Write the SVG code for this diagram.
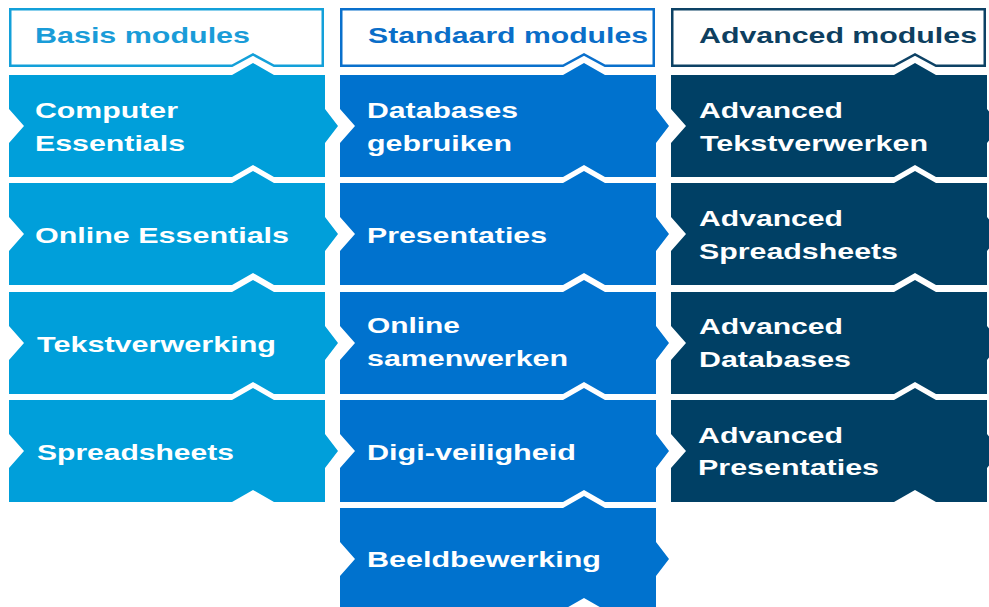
<svg xmlns="http://www.w3.org/2000/svg" xmlns:xlink="http://www.w3.org/1999/xlink" width="989" height="607" viewBox="0 0 989 607">
<style>
.t{font-family:"Liberation Sans",Arial,sans-serif;font-weight:bold;font-size:22px;fill:#ffffff}
.h{font-family:"Liberation Sans",Arial,sans-serif;font-weight:bold;font-size:22px}
.c1{fill:#009fda}.c2{fill:#0072ce}.c3{fill:#004065}
.hb{fill:#ffffff;stroke-width:2.5}
</style>
<defs>
<path id="blk" d="M0,0 H223 L244,-12 L265,0 H316 V34 L329,51 L316,68 V102 H265 L244,90 L223,102 H0 V68 L15,51 L0,34 Z"/>
<path id="hdr" d="M1.25,9.25 H313.75 V65.75 H265 L244,54.5 L223,65.75 H1.25 Z"/>
</defs>
<rect width="989" height="607" fill="#ffffff"/>

<g id="col1">
<g id="hdr-basis">
<use xlink:href="#hdr" x="9" class="hb" stroke="#13a0d9"/>
<text class="h" x="35" y="43" fill="#1a9cd8" textLength="215" lengthAdjust="spacingAndGlyphs">Basis modules</text>
</g>
<g id="computer-essentials">
<use xlink:href="#blk" x="9" y="75" class="c1"/>
<text class="t" x="35" y="118" textLength="143" lengthAdjust="spacingAndGlyphs">Computer</text>
<text class="t" x="35" y="151" textLength="150" lengthAdjust="spacingAndGlyphs">Essentials</text>
</g>
<g id="online-essentials">
<use xlink:href="#blk" x="9" y="183" class="c1"/>
<text class="t" x="35" y="243" textLength="254" lengthAdjust="spacingAndGlyphs">Online Essentials</text>
</g>
<g id="tekstverwerking">
<use xlink:href="#blk" x="9" y="292" class="c1"/>
<text class="t" x="37" y="352" textLength="239" lengthAdjust="spacingAndGlyphs">Tekstverwerking</text>
</g>
<g id="spreadsheets">
<use xlink:href="#blk" x="9" y="400" class="c1"/>
<text class="t" x="37" y="460" textLength="197" lengthAdjust="spacingAndGlyphs">Spreadsheets</text>
</g>
</g>

<g id="col2">
<g id="hdr-standaard">
<use xlink:href="#hdr" x="340" class="hb" stroke="#0a70cc"/>
<text class="h" x="368" y="43" fill="#0a6ec8" textLength="280" lengthAdjust="spacingAndGlyphs">Standaard modules</text>
</g>
<g id="databases-gebruiken">
<use xlink:href="#blk" x="340" y="75" class="c2"/>
<text class="t" x="367" y="118" textLength="151" lengthAdjust="spacingAndGlyphs">Databases</text>
<text class="t" x="367" y="151" textLength="145" lengthAdjust="spacingAndGlyphs">gebruiken</text>
</g>
<g id="presentaties">
<use xlink:href="#blk" x="340" y="183" class="c2"/>
<text class="t" x="367" y="243" textLength="180" lengthAdjust="spacingAndGlyphs">Presentaties</text>
</g>
<g id="online-samenwerken">
<use xlink:href="#blk" x="340" y="292" class="c2"/>
<text class="t" x="367" y="333" textLength="93" lengthAdjust="spacingAndGlyphs">Online</text>
<text class="t" x="367" y="366" textLength="201" lengthAdjust="spacingAndGlyphs">samenwerken</text>
</g>
<g id="digi-veiligheid">
<use xlink:href="#blk" x="340" y="400" class="c2"/>
<text class="t" x="367" y="460" textLength="209" lengthAdjust="spacingAndGlyphs">Digi-veiligheid</text>
</g>
<g id="beeldbewerking">
<use xlink:href="#blk" x="340" y="508" class="c2"/>
<text class="t" x="367" y="567" textLength="234" lengthAdjust="spacingAndGlyphs">Beeldbewerking</text>
</g>
</g>

<g id="col3">
<g id="hdr-advanced">
<use xlink:href="#hdr" x="671" class="hb" stroke="#0d4265"/>
<text class="h" x="699" y="43" fill="#0e3f60" textLength="278" lengthAdjust="spacingAndGlyphs">Advanced modules</text>
</g>
<g id="adv-tekstverwerken">
<use xlink:href="#blk" x="671" y="75" class="c3"/>
<text class="t" x="699" y="118" textLength="144" lengthAdjust="spacingAndGlyphs">Advanced</text>
<text class="t" x="700" y="151" textLength="228" lengthAdjust="spacingAndGlyphs">Tekstverwerken</text>
</g>
<g id="adv-spreadsheets">
<use xlink:href="#blk" x="671" y="183" class="c3"/>
<text class="t" x="699" y="226" textLength="144" lengthAdjust="spacingAndGlyphs">Advanced</text>
<text class="t" x="699" y="259" textLength="199" lengthAdjust="spacingAndGlyphs">Spreadsheets</text>
</g>
<g id="adv-databases">
<use xlink:href="#blk" x="671" y="292" class="c3"/>
<text class="t" x="699" y="334" textLength="144" lengthAdjust="spacingAndGlyphs">Advanced</text>
<text class="t" x="699" y="367" textLength="152" lengthAdjust="spacingAndGlyphs">Databases</text>
</g>
<g id="adv-presentaties">
<use xlink:href="#blk" x="671" y="400" class="c3"/>
<text class="t" x="698" y="443" textLength="145" lengthAdjust="spacingAndGlyphs">Advanced</text>
<text class="t" x="698" y="475" textLength="181" lengthAdjust="spacingAndGlyphs">Presentaties</text>
</g>
</g>

<g id="connectors"></g>
</svg>
